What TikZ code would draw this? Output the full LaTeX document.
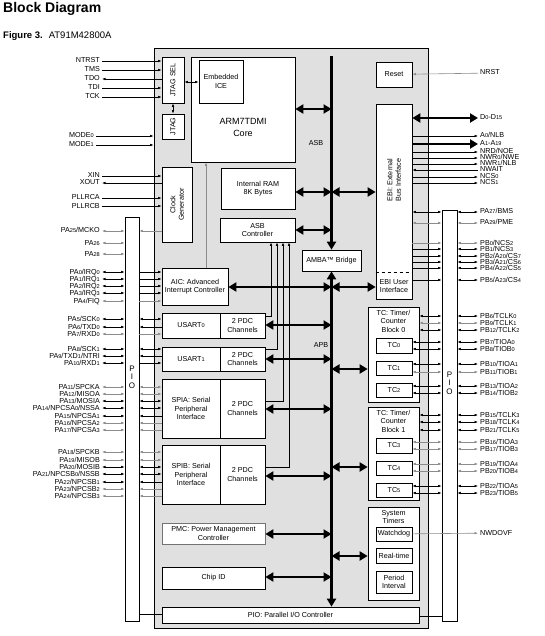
\documentclass[tikz,border=0pt]{standalone}
\usepackage{fontspec}
\setmainfont{Liberation Sans}
\usetikzlibrary{arrows.meta}
\newcommand\ix[1]{{\fontsize{5.6}{6}\selectfont#1}}
\definecolor{chipfill}{gray}{0.88}
\definecolor{dimline}{gray}{0.55}
\tikzset{
  every node/.style={font=\fontsize{7.2}{8.5}\selectfont},
  blk/.style={draw, fill=white, line width=0.7pt, inner sep=0pt, align=center},
  lbl/.style={anchor=east, inner ysep=0pt, inner xsep=2pt, text height=5pt, text depth=1pt},
  rlbl/.style={anchor=west, inner ysep=0pt, inner xsep=2pt, text height=5pt, text depth=1pt},
  wire/.style={line width=0.6pt},
  toR/.style={wire, -{Latex[length=3.5pt,width=2.6pt]}},
  toL/.style={wire, {Latex[length=3.5pt,width=2.6pt]}-},
  both/.style={wire, {Latex[length=3.5pt,width=2.6pt]}-{Latex[length=3.5pt,width=2.6pt]}},
  bus/.style={line width=2.6pt, {Triangle[length=8pt,width=9pt]}-{Triangle[length=8pt,width=9pt]}},
  busR/.style={line width=2.6pt, -{Triangle[length=8pt,width=9pt]}},
}

\begin{document}
\begin{tikzpicture}[x=1pt,y=-1pt]
\useasboundingbox (0,0) rectangle (545,636);
\node[anchor=north west,inner sep=0pt,font=\bfseries\fontsize{14}{16}\selectfont] (title) at (3,2) {Block Diagram};
\node[anchor=base west,inner sep=0pt,font=\fontsize{9.5}{11}\selectfont] (fig) at (3,39) {\textbf{Figure 3.}\hspace{6pt}AT91M42800A};

% chip and the two PIO bars
\node[draw,fill=chipfill,line width=0.8pt,inner sep=0pt,minimum width=274,minimum height=580] (chip) at (291,338) {};
\node[blk,minimum width=14,minimum height=404] (pioL) at (132,419) {};
\node[blk,minimum width=15,minimum height=411] (pioR) at (449.5,415.5) {};
\node[align=center,inner sep=0pt,font=\fontsize{8}{8.5}\selectfont] (pioLt) at (132,377) {P\\I\\O};
\node[align=center,inner sep=0pt,font=\fontsize{8}{8.5}\selectfont] (pioRt) at (449.5,383) {P\\I\\O};

% blocks
\node[blk,minimum width=22,minimum height=46,label={[rotate=90]center:JTAG SEL}] (jsel) at (173,80) {};
\node[blk,minimum width=22,minimum height=25,label={[rotate=90]center:JTAG}] (jtag) at (173,126.5) {};
\node[blk,minimum width=104,minimum height=105,label={[align=center,font=\fontsize{9}{12}\selectfont,yshift=-18pt]center:ARM7TDMI\\Core}] (core) at (243,109.5) {};
\node[blk,minimum width=44,minimum height=43] (ice) at (221,81.5) {Embedded\\ICE};
\node[blk,minimum width=30,minimum height=75,label={[rotate=90,align=center]center:Clock\\Generator}] (clk) at (177,204.5) {};
\node[blk,minimum width=74,minimum height=41] (ram) at (258,188.5) {Internal RAM\\8K Bytes};
\node[blk,minimum width=75,minimum height=24] (asbc) at (257.5,230) {ASB\\Controller};
\node[blk,minimum width=59,minimum height=21] (amba) at (331.5,260.5) {AMBA™ Bridge};
\node[blk,minimum width=66,minimum height=37] (aic) at (195,286.5) {AIC: Advanced\\Interrupt Controller};
\node[blk,minimum width=58,minimum height=25] (us0) at (191,325.5) {USART\ix{0}};
\node[blk,minimum width=45,minimum height=25] (us0p) at (242.5,325.5) {2 PDC\\Channels};
\node[blk,minimum width=58,minimum height=24] (us1) at (191,359) {USART\ix{1}};
\node[blk,minimum width=45,minimum height=24] (us1p) at (242.5,359) {2 PDC\\Channels};
\node[blk,minimum width=58,minimum height=59] (spia) at (191,408.5) {SPIA: Serial\\Peripheral\\Interface};
\node[blk,minimum width=45,minimum height=59] (spiap) at (242.5,408.5) {2 PDC\\Channels};
\node[blk,minimum width=58,minimum height=59] (spib) at (191,474.5) {SPIB: Serial\\Peripheral\\Interface};
\node[blk,minimum width=45,minimum height=59] (spibp) at (242.5,474.5) {2 PDC\\Channels};
\node[blk,draw=black!55,minimum width=103,minimum height=21] (pmc) at (213.5,533.5) {PMC: Power Management\\Controller};
\node[blk,minimum width=103,minimum height=22] (chipid) at (213.5,578) {Chip ID};
\node[blk,minimum width=257,minimum height=16] (pioc) at (290.5,615) {PIO: Parallel I/O Controller};
\node[blk,minimum width=36,minimum height=25] (reset) at (394,74.5) {Reset};
\node[blk,minimum width=36,minimum height=195] (ebi) at (394,201.5) {};
\node[rotate=90,align=center,inner sep=0pt] (ebitxt) at (394,180) {EBI: External\\Bus Interface};
\draw[wire,dashed] (ebi.west |- 0,272) -- (ebi.east |- 0,272);
\node[align=center,inner sep=0pt] (ebiui) at (394,286) {EBI User\\Interface};
\node[blk,minimum width=51,minimum height=95,label={[anchor=north,align=center]north:{TC: Timer/\\Counter\\Block 0}}] (tcb0) at (393.5,354.5) {};
\node[blk,minimum width=36,minimum height=15] (tc0) at (394,345.5) {TC\ix{0}};
\node[blk,minimum width=36,minimum height=14] (tc1) at (394,368) {TC\ix{1}};
\node[blk,minimum width=36,minimum height=14] (tc2) at (394,390) {TC\ix{2}};
\node[blk,minimum width=51,minimum height=93,label={[anchor=north,align=center]north:{TC: Timer/\\Counter\\Block 1}}] (tcb1) at (393.5,453.5) {};
\node[blk,minimum width=36,minimum height=15] (tc3) at (394,445.5) {TC\ix{3}};
\node[blk,minimum width=36,minimum height=14] (tc4) at (394,468) {TC\ix{4}};
\node[blk,minimum width=36,minimum height=14] (tc5) at (394,490) {TC\ix{5}};
\node[blk,minimum width=51,minimum height=93,label={[anchor=north,align=center]north:{System\\Timers}}] (systm) at (393.5,553.5) {};
\node[blk,minimum width=36,minimum height=14] (wdog) at (394,534) {Watchdog};
\node[blk,minimum width=36,minimum height=15] (rtime) at (394,555.5) {Real-time};
\node[blk,minimum width=36,minimum height=22] (pit) at (394,582) {Period\\Interval};

% JTAG, mode and clock inputs
\foreach \y/\t/\d [count=\i] in {61/NTRST/toR,70/TMS/toR,79/TDO/toL,88/TDI/toR,97/TCK/toR}
{
  \node[lbl] (jt\i) at (102,\y) {\t};
  \draw[\d] (jt\i) -- (jt\i -| jsel.west);
}
\foreach \y/\t [count=\i] in {136/MODE\ix{0},145/MODE\ix{1}}
{
  \node[lbl] (md\i) at (96,\y) {\t};
  \draw[toR] (md\i) -- (md\i -| chip.west);
}
\foreach \y/\t/\d [count=\i] in {176/XIN/toR,183/XOUT/toL,198/PLLRCA/toR,206/PLLRCB/toR}
{
  \node[lbl] (ck\i) at (102,\y) {\t};
  \draw[\d] (ck\i) -- (ck\i -| clk.west);
}
\draw[both] (jsel.east |- 0,82) -- (ice.west |- 0,82);
\draw[both] (jsel.south) -- (jtag.north);
\draw[toR,dimline] (aic.north -| 206,0) -- (core.south -| 206,0);

% port A, left side
\foreach \y/\t/\c [count=\i] in {
  231/{PA\ix{25}/MCKO}/dimline, 243/PA\ix{26}/dimline, 254/PA\ix{28}/dimline,
  272/{PA\ix{0}/IRQ\ix{0}}/black, 279/{PA\ix{1}/IRQ\ix{1}}/black, 286/{PA\ix{2}/IRQ\ix{2}}/black,
  293/{PA\ix{3}/IRQ\ix{3}}/black, 301/{PA\ix{4}/FIQ}/dimline,
  319/{PA\ix{5}/SCK\ix{0}}/black, 327/{PA\ix{6}/TXD\ix{0}}/black, 334/{PA\ix{7}/RXD\ix{0}}/dimline,
  349/{PA\ix{8}/SCK\ix{1}}/black, 356/{PA\ix{9}/TXD\ix{1}/NTRI}/black, 363/{PA\ix{10}/RXD\ix{1}}/black,
  387/{PA\ix{11}/SPCKA}/dimline, 394/{PA\ix{12}/MISOA}/dimline, 401/{PA\ix{13}/MOSIA}/black,
  408/{PA\ix{14}/NPCSA\ix{0}/NSSA}/black, 416/{PA\ix{15}/NPCSA\ix{1}}/black,
  423/{PA\ix{16}/NPCSA\ix{2}}/dimline, 430/{PA\ix{17}/NPCSA\ix{3}}/dimline,
  452/{PA\ix{18}/SPCKB}/dimline, 460/{PA\ix{19}/MISOB}/dimline, 467/{PA\ix{20}/MOSIB}/black,
  474/{PA\ix{21}/NPCSB\ix{0}/NSSB}/black, 482/{PA\ix{22}/NPCSB\ix{1}}/black,
  489/{PA\ix{23}/NPCSB\ix{2}}/dimline, 496/{PA\ix{24}/NPCSB\ix{3}}/dimline}
{
  \node[lbl] (pa\i) at (102,\y) {\t};
  \draw[both,\c] (pa\i) -- (pa\i -| pioL.west);
}
\foreach \y/\d/\b/\c in {
  231/toL/clk/dimline,
  272/toR/aic/black, 279/toR/aic/black, 286/toR/aic/black, 293/toR/aic/black, 301/toR/aic/dimline,
  319/both/us0/black, 327/toL/us0/black, 334/toR/us0/dimline,
  349/both/us1/black, 356/toL/us1/black, 363/toR/us1/black,
  387/both/spia/dimline, 394/both/spia/dimline, 401/both/spia/black, 408/both/spia/black,
  416/toL/spia/black, 423/toL/spia/dimline, 430/toL/spia/dimline,
  452/both/spib/dimline, 460/both/spib/dimline, 467/both/spib/black, 474/both/spib/black,
  482/toL/spib/black, 489/toL/spib/dimline, 496/toL/spib/dimline}
  \draw[\d,\c] (pioL.east |- 0,\y) -- (\b.west |- 0,\y);
\draw[wire] (pioL.east |- 0,614) -- (pioc.west |- 0,614);
\draw[wire] (pioc.east |- 0,616) -- (pioR.west |- 0,616);

% external bus
\node[rlbl] (nrst) at (478,73) {NRST};
\draw[toL,dimline] (reset) -- (nrst);
\node[rlbl] (dbus) at (478,118) {D\ix{0}-D\ix{15}};
\draw[bus] (ebi.east |- dbus) -- (dbus);
\node[rlbl] (abus) at (478,144) {A\ix{1}-A\ix{19}};
\draw[busR] (ebi.east |- abus) -- (abus);
\foreach \y/\t/\d [count=\i] in {136/{A\ix{0}/NLB}/toR, 152/{NRD/NOE}/toR, 158/{NWR\ix{0}/NWE}/toR,
  164/{NWR\ix{1}/NLB}/toR, 170/NWAIT/toL, 177/NCS\ix{0}/toR, 183/NCS\ix{1}/toR}
{
  \node[rlbl] (eb\i) at (478,\y) {\t};
  \draw[\d] (ebi.east |- eb\i) -- (eb\i);
}

% port A/B, right side
\foreach \y/\t/\c [count=\i] in {
  212/{PA\ix{27}/BMS}/black, 223/{PA\ix{29}/PME}/dimline,
  243/{PB\ix{0}/NCS\ix{2}}/dimline, 249/{PB\ix{1}/NCS\ix{3}}/black,
  256/{PB\ix{2}/A\ix{20}/CS\ix{7}}/black, 262/{PB\ix{3}/A\ix{21}/CS\ix{6}}/black,
  268/{PB\ix{4}/A\ix{22}/CS\ix{5}}/black, 280/{PB\ix{5}/A\ix{23}/CS\ix{4}}/black,
  316/{PB\ix{6}/TCLK\ix{0}}/black, 323/{PB\ix{9}/TCLK\ix{1}}/dimline, 330/{PB\ix{12}/TCLK\ix{2}}/black,
  342/{PB\ix{7}/TIOA\ix{0}}/black, 349/{PB\ix{8}/TIOB\ix{0}}/black,
  364/{PB\ix{10}/TIOA\ix{1}}/black, 372/{PB\ix{11}/TIOB\ix{1}}/dimline,
  386/{PB\ix{13}/TIOA\ix{2}}/black, 393/{PB\ix{14}/TIOB\ix{2}}/black,
  415/{PB\ix{15}/TCLK\ix{3}}/black, 422/{PB\ix{18}/TCLK\ix{4}}/black, 430/{PB\ix{21}/TCLK\ix{5}}/black,
  442/{PB\ix{16}/TIOA\ix{3}}/dimline, 449/{PB\ix{17}/TIOB\ix{3}}/dimline,
  464/{PB\ix{19}/TIOA\ix{4}}/dimline, 471/{PB\ix{20}/TIOB\ix{4}}/dimline,
  486/{PB\ix{22}/TIOA\ix{5}}/black, 493/{PB\ix{23}/TIOB\ix{5}}/black}
{
  \node[rlbl] (pb\i) at (478,\y) {\t};
  \draw[both,\c] (pioR.east |- pb\i) -- (pb\i);
}
\foreach \y/\d/\b/\c in {
  212/both/ebi/black, 223/both/ebi/dimline, 243/toR/ebi/dimline, 249/toR/ebi/black,
  256/toR/ebi/black, 262/toR/ebi/black, 268/toR/ebi/black, 280/toR/ebi/black,
  316/both/tcb0/black, 323/both/tcb0/dimline, 330/both/tcb0/black,
  342/both/tc0/black, 349/both/tc0/black, 364/both/tc1/black, 372/both/tc1/dimline,
  386/both/tc2/black, 393/both/tc2/black,
  415/both/tcb1/black, 422/both/tcb1/black, 430/both/tcb1/black,
  442/both/tc3/dimline, 449/both/tc3/dimline, 464/both/tc4/dimline, 471/both/tc4/dimline,
  486/both/tc5/black, 493/both/tc5/black}
  \draw[\d,\c] (\b.east |- 0,\y) -- (pioR.west |- 0,\y);
\node[rlbl] (nwdovf) at (478,533) {NWDOVF};
\draw[toR,dimline] (wdog) -- (nwdovf);

% PDC requests to the ASB controller
\draw[toR] (us0p.east |- 0,316) -| (asbc.south -| 271,0);
\draw[toR] (us1p.east |- 0,349) -| (asbc.south -| 277,0);
\draw[toR] (spiap.east |- 0,401) -| (asbc.south -| 283,0);
\draw[toR] (spibp.east |- 0,467) -| (asbc.south -| 289,0);

% ASB and APB
\coordinate (asbtop) at (331.5,56);
\draw[busR] (asbtop) -- (amba.north);
\draw[bus] (amba.south) -- (amba.south |- pioc.north);
\node[inner sep=0pt] (asblbl) at (316,143) {ASB};
\node[inner sep=0pt] (apblbl) at (321,345) {APB};
\draw[bus] (core.east |- 0,109) -- (amba |- 0,109);
\draw[bus] (ram.east |- 0,192) -- (amba |- 0,192);
\draw[bus] (amba |- 0,192) -- (ebi.west |- 0,192);
\draw[bus] (asbc.east |- 0,230) -- (amba |- 0,230);
\draw[bus] (aic.east |- 0,287) -- (amba |- 0,287);
\draw[bus] (amba |- 0,287) -- (ebi.west |- 0,287);
\draw[bus] (us0p.east |- 0,325) -- (amba |- 0,325);
\draw[bus] (us1p.east |- 0,359) -- (amba |- 0,359);
\draw[bus] (spiap.east |- 0,409) -- (amba |- 0,409);
\draw[bus] (spibp.east |- 0,476) -- (amba |- 0,476);
\draw[bus] (pmc.east |- 0,534) -- (amba |- 0,534);
\draw[bus] (chipid.east |- 0,577) -- (amba |- 0,577);
\draw[bus] (amba |- 0,369) -- (tcb0.west |- 0,369);
\draw[bus] (amba |- 0,467) -- (tcb1.west |- 0,467);
\draw[bus] (amba |- 0,556) -- (systm.west |- 0,556);
\end{tikzpicture}
\end{document}
